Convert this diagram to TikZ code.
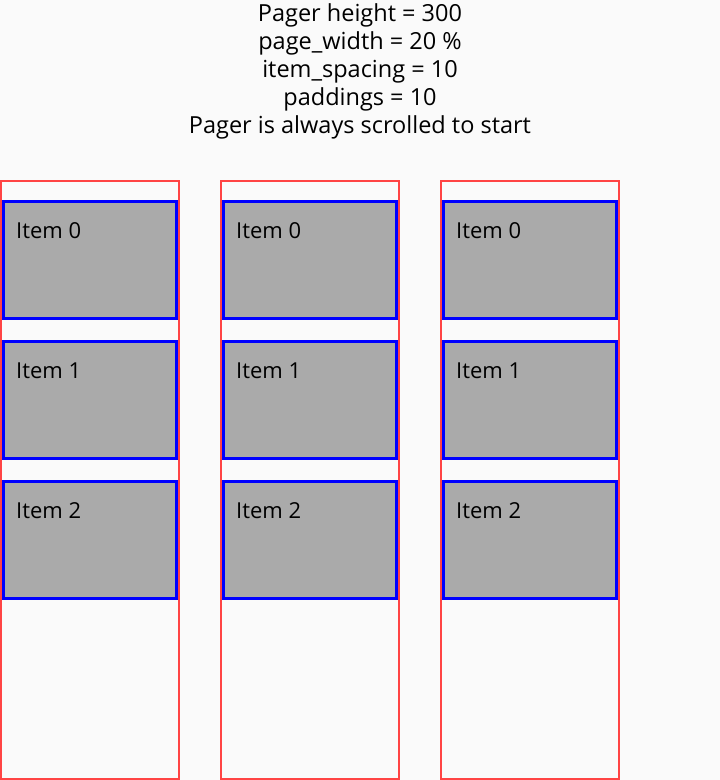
\documentclass[tikz,border=0pt]{standalone}
\usepackage{fontspec}
\setmainfont{Open Sans}
\definecolor{bgcol}{HTML}{FAFAFA}
\definecolor{pagered}{HTML}{FF4444}
\definecolor{itemgray}{HTML}{AAAAAA}
\definecolor{itemblue}{HTML}{0000FF}
\tikzset{
  pagebox/.style={draw=pagered,line width=2pt},
  itembox/.style={draw=itemblue,fill=itemgray,line width=3pt},
  itemlabel/.style={anchor=base west,inner sep=0pt,font=\fontsize{22}{26}\selectfont},
}
\begin{document}
\begin{tikzpicture}[x=1pt,y=-1pt]
\fill[bgcol] (0,0) rectangle (720,780); %background
\useasboundingbox (0,0) rectangle (720,780);

\node[anchor=north,inner sep=0pt,align=center,font=\fontsize{23.5}{28}\selectfont] (header) at (360,3)
  {Pager height = 300\\page\_width = 20 \%\\item\_spacing = 10\\paddings = 10\\Pager is always scrolled to start};

% items, first page
\draw[itembox] (3,201.5) rectangle (176,318.5);
\draw[itembox] (3,341.5) rectangle (176,458.5);
\draw[itembox] (3,481.5) rectangle (176,598.5);
% items, second page
\draw[itembox] (223,201.5) rectangle (396,318.5);
\draw[itembox] (223,341.5) rectangle (396,458.5);
\draw[itembox] (223,481.5) rectangle (396,598.5);
% items, third page
\draw[itembox] (443,201.5) rectangle (616,318.5);
\draw[itembox] (443,341.5) rectangle (616,458.5);
\draw[itembox] (443,481.5) rectangle (616,598.5);

% pages
\draw[pagebox] (1,181) rectangle (178.5,778.5);
\draw[pagebox] (221,181) rectangle (398.5,778.5);
\draw[pagebox] (441,181) rectangle (618.5,778.5);

\node[itemlabel] (itemA0) at (16,238) {Item 0};
\node[itemlabel] (itemA1) at (16,378) {Item 1};
\node[itemlabel] (itemA2) at (16,518) {Item 2};
\node[itemlabel] (itemB0) at (236,238) {Item 0};
\node[itemlabel] (itemB1) at (236,378) {Item 1};
\node[itemlabel] (itemB2) at (236,518) {Item 2};
\node[itemlabel] (itemC0) at (456,238) {Item 0};
\node[itemlabel] (itemC1) at (456,378) {Item 1};
\node[itemlabel] (itemC2) at (456,518) {Item 2};

\end{tikzpicture}
\end{document}
